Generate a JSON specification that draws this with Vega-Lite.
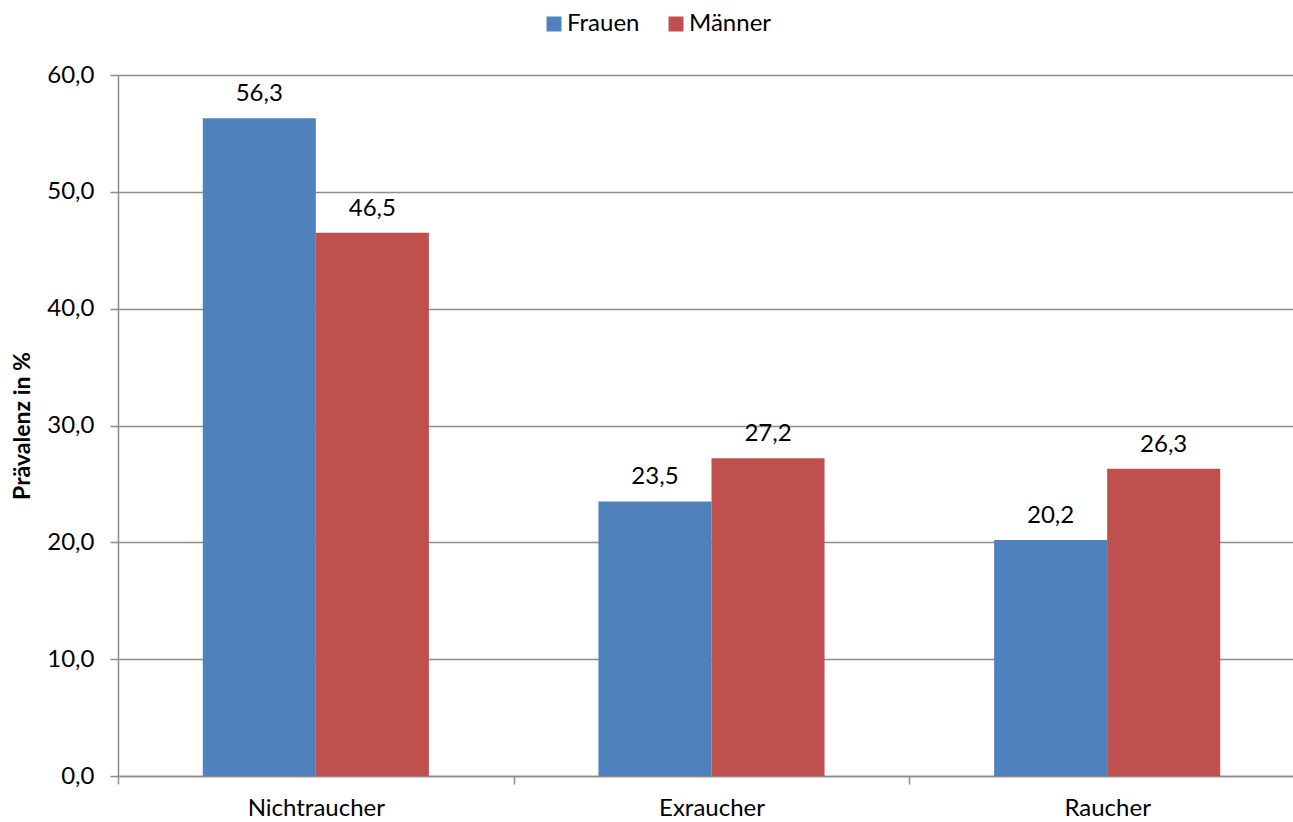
{
  "$schema": "https://vega.github.io/schema/vega-lite/v6.json",
  "width": 1175,
  "height": 701,
  "autosize": "none",
  "padding": {"left": 118, "top": 75, "right": 0, "bottom": 46},
  "background": "white",
  "config": {
    "locale": {"number": {"decimal": ",", "thousands": ".", "grouping": [3], "currency": ["", " €"]}},
    "font": "Lato",
    "view": {"stroke": null}
  },
  "data": {
    "values": [
      {"Status": "Nichtraucher", "Geschlecht": "Frauen", "Wert": 56.3},
      {"Status": "Nichtraucher", "Geschlecht": "Männer", "Wert": 46.5},
      {"Status": "Exraucher", "Geschlecht": "Frauen", "Wert": 23.5},
      {"Status": "Exraucher", "Geschlecht": "Männer", "Wert": 27.2},
      {"Status": "Raucher", "Geschlecht": "Frauen", "Wert": 20.2},
      {"Status": "Raucher", "Geschlecht": "Männer", "Wert": 26.3}
    ]
  },
  "encoding": {
    "x": {
      "field": "Status",
      "type": "nominal",
      "sort": ["Nichtraucher", "Exraucher", "Raucher"],
      "scale": {"paddingInner": 0, "paddingOuter": 0, "range": [0, 1187]},
      "axis": {
        "title": null,
        "tickBand": "extent",
        "labelAngle": 0,
        "labelFont": "Lato",
        "labelFontSize": 24,
        "labelColor": "black",
        "tickSize": 8,
        "tickWidth": 1.5,
        "tickColor": "#8c8c8c",
        "domainColor": "#8c8c8c",
        "domainWidth": 1.5,
        "labelPadding": 12,
        "grid": false
      }
    },
    "xOffset": {
      "field": "Geschlecht",
      "type": "nominal",
      "sort": ["Frauen", "Männer"],
      "scale": {"paddingInner": 0, "paddingOuter": 0.75}
    },
    "y": {
      "field": "Wert",
      "type": "quantitative",
      "scale": {"domain": [0, 60], "nice": false},
      "axis": {
        "title": "Prävalenz in %",
        "titleFont": "Lato",
        "titleFontSize": 23,
        "titleFontWeight": "bold",
        "titleColor": "black",
        "titlePadding": 12,
        "values": [0, 10, 20, 30, 40, 50, 60],
        "format": ".1f",
        "labelFont": "Lato",
        "labelFontSize": 24,
        "labelColor": "black",
        "labelPadding": 16,
        "tickSize": 8,
        "tickWidth": 1.5,
        "tickColor": "#8c8c8c",
        "domainColor": "#8c8c8c",
        "domainWidth": 1.5,
        "grid": true,
        "gridColor": "#8c8c8c",
        "gridWidth": 1.5
      }
    }
  },
  "layer": [
    {
      "mark": {"type": "bar"},
      "encoding": {
        "color": {
          "field": "Geschlecht",
          "type": "nominal",
          "sort": ["Frauen", "Männer"],
          "scale": {"domain": ["Frauen", "Männer"], "range": ["#4F81BD", "#C0504D"]},
          "legend": {
            "title": null,
            "orient": "none",
            "direction": "horizontal",
            "legendX": 424,
            "legendY": -63,
            "padding": 0,
            "symbolType": "square",
            "symbolSize": 225,
            "symbolStrokeWidth": 0,
            "labelFont": "Lato",
            "labelFontSize": 24,
            "labelColor": "black",
            "labelOffset": 1,
            "columnPadding": 24
          }
        }
      }
    },
    {
      "mark": {"type": "text", "dy": -17, "baseline": "alphabetic", "fontSize": 24, "font": "Lato", "color": "black"},
      "encoding": {"text": {"field": "Wert", "type": "quantitative", "format": ".1f"}}
    }
  ]
}
